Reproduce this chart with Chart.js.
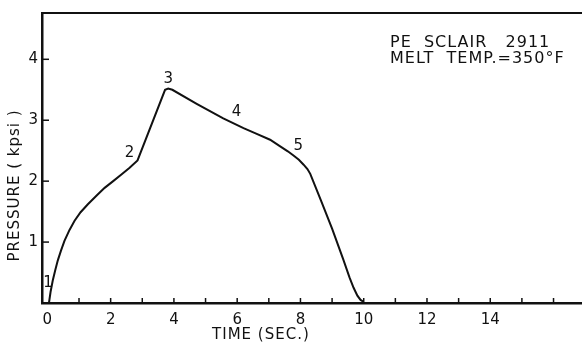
<!DOCTYPE html>
<html>
<head>
<meta charset="utf-8">
<script src="https://cdn.jsdelivr.net/npm/chart.js@4.4.1/dist/chart.umd.min.js"></script>
<style>
  html, body { margin: 0; padding: 0; background: #fff; }
  #wrap { width: 582px; height: 343px; }
</style>
</head>
<body>
<div id="wrap"><canvas id="c" width="582" height="343"></canvas></div>
<script>
// Pressure trace during the fill / pack / hold cycle
const timeSec = [0.05, 0.10, 0.17, 0.25, 0.33, 0.43, 0.54, 0.70, 0.86, 1.05, 1.28, 1.55, 1.81, 2.08, 2.34, 2.60, 2.85,
                 3.72, 3.82, 3.95, 4.72, 5.56, 6.20, 6.60, 7.04, 7.36, 7.60, 7.78, 7.95, 8.10, 8.22, 8.31,
                 8.65, 9.00, 9.35, 9.55, 9.68, 9.80, 9.90, 10.00];
const pressureKpsi = [0.00, 0.18, 0.37, 0.54, 0.70, 0.86, 1.02, 1.20, 1.35, 1.49, 1.62, 1.76, 1.89, 2.00, 2.11, 2.22, 2.34,
                      3.50, 3.52, 3.50, 3.27, 3.03, 2.87, 2.78, 2.68, 2.57, 2.49, 2.42, 2.35, 2.27, 2.20, 2.12,
                      1.68, 1.22, 0.72, 0.42, 0.25, 0.12, 0.05, 0.02];

// Stage markers along the trace
const stageLabels = ['1', '2', '3', '4', '5'];
const stageTime = [0.02, 2.60, 3.82, 5.98, 7.93];
const stagePressure = [0.33, 2.46, 3.68, 3.14, 2.58];

// Axis tick values
const xTickLabels = [0, 2, 4, 6, 8, 10, 12, 14];
const yTickLabels = [1, 2, 3, 4];

const noteLines = ['PE  SCLAIR   2911', 'MELT  TEMP.=350°F'];

const FONT = '"DejaVu Sans", "Liberation Sans", sans-serif';
const INK = '#111';

const points = timeSec.map((t, i) => ({ x: t, y: pressureKpsi[i] }));

const decorations = {
  id: 'decorations',
  afterDraw(chart) {
    const ctx = chart.ctx;
    const xs = chart.scales.x, ys = chart.scales.y;
    const area = chart.chartArea;
    ctx.save();
    ctx.strokeStyle = INK;
    ctx.fillStyle = INK;

    // top frame line
    ctx.lineWidth = 2;
    ctx.beginPath();
    ctx.moveTo(area.left, area.top);
    ctx.lineTo(area.right, area.top);
    ctx.stroke();

    // inward tick marks
    ctx.lineWidth = 1.5;
    xs.ticks.forEach(tk => {
      if (!Number.isInteger(tk.value) || tk.value < 1) return;
      const px = xs.getPixelForValue(tk.value);
      ctx.beginPath();
      ctx.moveTo(px, area.bottom);
      ctx.lineTo(px, area.bottom - 5);
      ctx.stroke();
    });
    ys.ticks.forEach(tk => {
      if (!Number.isInteger(tk.value) || tk.value < 1) return;
      const py = ys.getPixelForValue(tk.value);
      ctx.beginPath();
      ctx.moveTo(area.left, py);
      ctx.lineTo(area.left + 7, py);
      ctx.stroke();
    });

    // stage numbers
    ctx.font = '15px ' + FONT;
    ctx.textAlign = 'center';
    ctx.textBaseline = 'middle';
    stageLabels.forEach((s, i) => {
      ctx.fillText(s, xs.getPixelForValue(stageTime[i]), ys.getPixelForValue(stagePressure[i]));
    });

    // material note
    ctx.font = '16px ' + FONT;
    ctx.textAlign = 'left';
    ctx.textBaseline = 'alphabetic';
    ctx.letterSpacing = '1px';
    const nx = xs.getPixelForValue(10.83);
    ctx.fillText(noteLines[0], nx, area.top + 34);
    ctx.fillText(noteLines[1], nx, area.top + 50);

    // axis titles
    ctx.font = '15px ' + FONT;
    ctx.letterSpacing = '1px';
    ctx.textAlign = 'center';
    ctx.textBaseline = 'middle';
    ctx.fillText('TIME (SEC.)', xs.getPixelForValue(6.75), area.bottom + 32);

    ctx.translate(area.left - 27, ys.getPixelForValue(1.93));
    ctx.rotate(-Math.PI / 2);
    ctx.fillText('PRESSURE ( kpsi )', 0, 0);
    ctx.restore();
  }
};

new Chart(document.getElementById('c'), {
  type: 'scatter',
  data: {
    datasets: [{
      data: points,
      showLine: true,
      borderColor: INK,
      borderWidth: 2,
      pointRadius: 0,
      fill: false,
      tension: 0
    }]
  },
  options: {
    responsive: false,
    animation: false,
    layout: { padding: { top: 10, right: 0, left: 0, bottom: 0 } },
    plugins: { legend: { display: false }, tooltip: { enabled: false } },
    scales: {
      x: {
        type: 'linear',
        min: -0.17,
        max: 16.9,
        grid: { display: false, drawTicks: false, tickLength: 0 },
        border: { display: true, color: INK, width: 2.5 },
        ticks: {
          stepSize: 1,
          includeBounds: false,
          autoSkip: false,
          maxRotation: 0,
          padding: 8,
          color: INK,
          font: { family: FONT, size: 15 },
          callback: v => (xTickLabels.includes(v) ? String(v) : '')
        },
        afterFit: s => { s.height = 40; }
      },
      y: {
        type: 'linear',
        min: 0,
        max: 4.76,
        grid: { display: false, drawTicks: false, tickLength: 0 },
        border: { display: true, color: INK, width: 2.5 },
        ticks: {
          stepSize: 1,
          includeBounds: false,
          autoSkip: false,
          padding: 4,
          color: INK,
          font: { family: FONT, size: 15 },
          callback: v => (yTickLabels.includes(v) ? String(v) : '')
        },
        afterFit: s => { s.width = 42; }
      }
    }
  },
  plugins: [decorations]
});
</script>
</body>
</html>
